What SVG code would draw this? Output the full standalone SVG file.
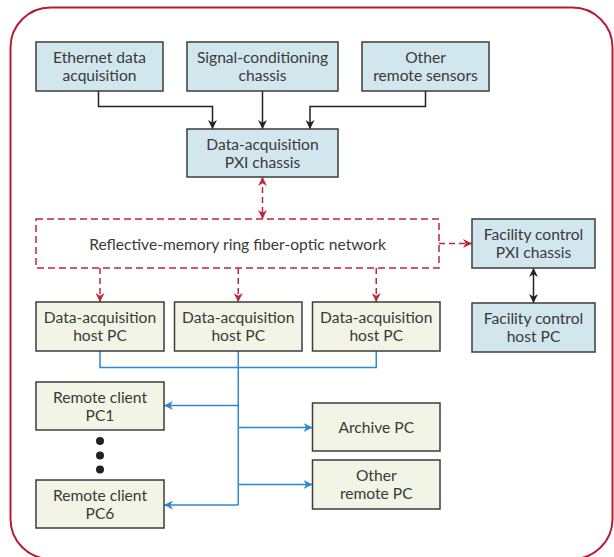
<svg xmlns="http://www.w3.org/2000/svg" width="614" height="557" viewBox="0 0 614 557">
  <style>
    .frame { fill: none; stroke: #b71c33; stroke-width: 2; }
    .box { stroke: #3d3d3d; stroke-width: 1.5; }
    .blue { fill: #d2e6ee; }
    .cream { fill: #f2f4e5; }
    .ring { fill: none; stroke: #c0253b; stroke-width: 1.5; stroke-dasharray: 7 4; }
    .lbl { font-family: Lato, "Liberation Sans", sans-serif; font-size: 15.6px; font-weight: 400; fill: #3a3a3a; text-anchor: middle; }
    .k { fill: none; stroke: #222; stroke-width: 1.5; }
    .r { fill: none; stroke: #c0253b; stroke-width: 1.5; stroke-dasharray: 6 4; }
    .b { fill: none; stroke: #2f88d3; stroke-width: 1.5; }
  </style>
  <defs>
    <marker id="ahK" viewBox="0 0 10 10" refX="10" refY="5" markerWidth="9" markerHeight="9" markerUnits="userSpaceOnUse" orient="auto-start-reverse">
      <path d="M0,0 L10,5 L0,10 L3,5 z" fill="#222"/>
    </marker>
    <marker id="ahR" viewBox="0 0 10 10" refX="10" refY="5" markerWidth="9" markerHeight="9" markerUnits="userSpaceOnUse" orient="auto-start-reverse">
      <path d="M0,0 L10,5 L0,10 L3,5 z" fill="#c0253b"/>
    </marker>
    <marker id="ahB" viewBox="0 0 10 10" refX="10" refY="5" markerWidth="9" markerHeight="9" markerUnits="userSpaceOnUse" orient="auto">
      <path d="M0,0 L10,5 L0,10 L3,5 z" fill="#2f88d3"/>
    </marker>
  </defs>

  <!-- outer boundary -->
  <rect class="frame" x="10.5" y="7.5" width="602" height="551.5" rx="40" ry="40"/>

  <!-- connectors -->
  <g id="connectors">
    <path class="k" d="M98.5,91 V106.5 H212.5 V129" marker-end="url(#ahK)"/>
    <path class="k" d="M262.5,91 V129" marker-end="url(#ahK)"/>
    <path class="k" d="M425.5,91 V106.5 H310 V129" marker-end="url(#ahK)"/>
    <path class="r" d="M262.5,177 V219" marker-start="url(#ahR)" marker-end="url(#ahR)"/>
    <path class="r" d="M439,243.5 H472" marker-end="url(#ahR)"/>
    <path class="r" d="M100,268 V302" marker-end="url(#ahR)"/>
    <path class="r" d="M238.25,268 V302" marker-end="url(#ahR)"/>
    <path class="r" d="M376.25,268 V302" marker-end="url(#ahR)"/>
    <path class="k" d="M533.5,268 V303" marker-start="url(#ahK)" marker-end="url(#ahK)"/>
    <path class="b" d="M100,351 V367.5 H376.25 V351"/>
    <path class="b" d="M238.25,351 V505"/>
    <path class="b" d="M238.25,405.5 H164" marker-end="url(#ahB)"/>
    <path class="b" d="M238.25,427.5 H312.5" marker-end="url(#ahB)"/>
    <path class="b" d="M238.25,484.5 H312.5" marker-end="url(#ahB)"/>
    <path class="b" d="M238.25,505 H164" marker-end="url(#ahB)"/>
  </g>

  <g id="eth">
    <rect class="box blue" x="36" y="42" width="127" height="49"/>
    <text class="lbl" x="99.5" y="63">Ethernet data</text>
    <text class="lbl" x="99.5" y="81">acquisition</text>
  </g>
  <g id="sigcond">
    <rect class="box blue" x="187" y="42" width="151" height="49"/>
    <text class="lbl" x="262.5" y="63">Signal-conditioning</text>
    <text class="lbl" x="262.5" y="81">chassis</text>
  </g>
  <g id="sensors">
    <rect class="box blue" x="362" y="42" width="127" height="49"/>
    <text class="lbl" x="425.5" y="63">Other</text>
    <text class="lbl" x="425.5" y="81">remote sensors</text>
  </g>
  <g id="daqpxi">
    <rect class="box blue" x="187" y="129" width="151" height="48"/>
    <text class="lbl" x="262.5" y="149.5">Data-acquisition</text>
    <text class="lbl" x="262.5" y="167.5">PXI chassis</text>
  </g>
  <g id="ringnet">
    <rect class="ring" x="36" y="219" width="403" height="49"/>
    <text class="lbl" x="237.5" y="249.5">Reflective-memory ring fiber-optic network</text>
  </g>
  <g id="facpxi">
    <rect class="box blue" x="472" y="219" width="123" height="49"/>
    <text class="lbl" x="533.5" y="240">Facility control</text>
    <text class="lbl" x="533.5" y="258">PXI chassis</text>
  </g>
  <g id="fachost">
    <rect class="box blue" x="472" y="303" width="123" height="49"/>
    <text class="lbl" x="533.5" y="324">Facility control</text>
    <text class="lbl" x="533.5" y="342">host PC</text>
  </g>
  <g id="host1">
    <rect class="box cream" x="36" y="302" width="128" height="49"/>
    <text class="lbl" x="100" y="323">Data-acquisition</text>
    <text class="lbl" x="100" y="341">host PC</text>
  </g>
  <g id="host2">
    <rect class="box cream" x="174.5" y="302" width="127.5" height="49"/>
    <text class="lbl" x="238.25" y="323">Data-acquisition</text>
    <text class="lbl" x="238.25" y="341">host PC</text>
  </g>
  <g id="host3">
    <rect class="box cream" x="312.5" y="302" width="127.5" height="49"/>
    <text class="lbl" x="376.25" y="323">Data-acquisition</text>
    <text class="lbl" x="376.25" y="341">host PC</text>
  </g>
  <g id="client1">
    <rect class="box cream" x="36" y="382" width="128" height="48"/>
    <text class="lbl" x="100" y="402.5">Remote client</text>
    <text class="lbl" x="100" y="420.5">PC1</text>
  </g>
  <g id="ellipsis">
    <circle cx="100" cy="441" r="4" fill="#222"/>
    <circle cx="100" cy="455.5" r="4" fill="#222"/>
    <circle cx="100" cy="469.5" r="4" fill="#222"/>
  </g>
  <g id="client6">
    <rect class="box cream" x="36" y="480" width="128" height="48"/>
    <text class="lbl" x="100" y="500.5">Remote client</text>
    <text class="lbl" x="100" y="518.5">PC6</text>
  </g>
  <g id="archive">
    <rect class="box cream" x="312.5" y="403" width="127.5" height="48"/>
    <text class="lbl" x="376.25" y="433">Archive PC</text>
  </g>
  <g id="otherpc">
    <rect class="box cream" x="312.5" y="460" width="127.5" height="49"/>
    <text class="lbl" x="376.25" y="481">Other</text>
    <text class="lbl" x="376.25" y="499">remote PC</text>
  </g>
</svg>
